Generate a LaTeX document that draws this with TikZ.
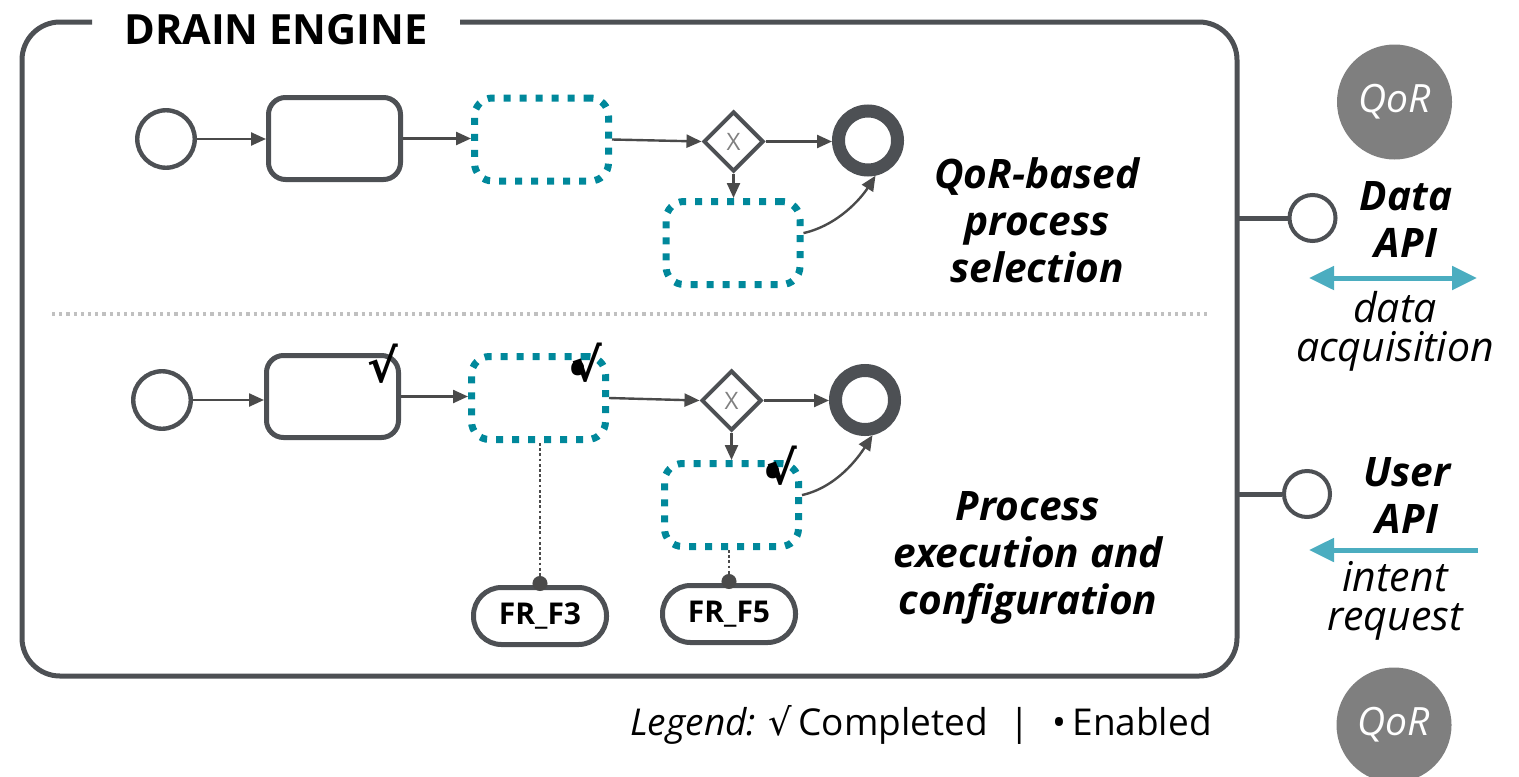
\documentclass[tikz,border=0pt]{standalone}
\usepackage{fontspec}
\setmainfont{Open Sans}
\newfontfamily\symfont{DejaVu Sans}
\usetikzlibrary{arrows.meta,shapes.geometric}
\definecolor{framegray}{HTML}{4D5054}
\definecolor{arrowgray}{HTML}{4A4A4A}
\definecolor{tealD}{HTML}{00889B}
\definecolor{tealL}{HTML}{4BADC0}
\definecolor{qorgray}{HTML}{7F7F7F}
\definecolor{sepgray}{HTML}{C0C0C0}
\tikzset{
  startev/.style={circle, draw=framegray, line width=2.2pt, minimum size=28.75pt, inner sep=0pt},
  task/.style={rectangle, rounded corners=8.5pt, draw=framegray, line width=2.5pt, minimum width=66pt, minimum height=41pt, inner sep=0pt},
  dtask/.style={rectangle, rounded corners=9pt, draw=tealD, line width=3.5pt, dash pattern=on 3.5pt off 4.5pt, minimum width=67pt, minimum height=41.5pt, inner sep=0pt},
  gate/.style={diamond, draw=framegray, line width=2pt, minimum width=30pt, minimum height=30pt, inner sep=0pt, text=gray, font=\fontsize{12}{12}\selectfont},
  endev/.style={circle, draw=framegray, line width=6.5pt, minimum size=29.5pt, inner sep=0pt},
  pill/.style={rectangle, rounded corners=14pt, draw=framegray, line width=2.5pt, minimum width=66.5pt, minimum height=28.5pt, inner sep=0pt, font=\bfseries\fontsize{15}{15}\selectfont},
  flow/.style={draw=arrowgray, line width=1.2pt, -{Triangle[length=7.5pt,width=6.5pt]}},
  assoc/.style={draw=arrowgray, line width=1.4pt, dash pattern=on 1.4pt off 1.2pt, -{Circle[length=7.5pt,sep=-3pt]}},
  frameline/.style={draw=framegray, line width=2.5pt},
  chk/.style={inner sep=0pt, font=\symfont\bfseries\fontsize{23}{23}\selectfont},
  bigl/.style={align=center, inner sep=0pt, font=\bfseries\itshape\fontsize{20.3}{23.5}\selectfont},
  smalll/.style={align=center, inner sep=0pt, font=\itshape\fontsize{20.5}{19.5}\selectfont},
  qor/.style={circle, fill=qorgray, minimum size=57.5pt, inner sep=0pt, text=white, font=\itshape\fontsize{19.5}{19.5}\selectfont},
  apic/.style={circle, draw=framegray, line width=2pt, minimum size=23pt, inner sep=0pt},
  apiarrow/.style={draw=tealL, line width=2.5pt},
  sepline/.style={draw=sepgray, line width=1.6pt, dash pattern=on 1.6pt off 2pt}
}
\begin{document}
\begin{tikzpicture}[x=0.5pt,y=-0.5pt]
\useasboundingbox (0,0) rectangle (1519,776);
% frame
\draw[frameline, rounded corners=19pt] (92,22) -- (22,22) -- (22,676) -- (1237,676) -- (1237,22) -- (460,22);
\node[inner sep=0pt, font=\bfseries\fontsize{20.8}{20.8}\selectfont] (title) at (276,30) {DRAIN ENGINE};
% separator
\coordinate (sepA) at (52,314);
\coordinate (sepB) at (1210,314);
\draw[sepline] (sepA) -- (sepB);
% top row
\node[startev] (s1) at (166,139) {};
\node[task] (t1) at (334.5,138.5) {};
\node[dtask] (d1) at (541.5,139.5) {};
\node[gate] (g1) at (733.5,141.5) {X};
\node[endev] (e1) at (868,140.5) {};
\node[dtask] (d2) at (733,243) {};
\draw[flow] (s1) -- (s1 -| t1.west);
\draw[flow] (t1.east) -- (t1.east -| d1.west);
\draw[flow] (d1.east) -- (g1.west);
\draw[flow] (g1.east) -- (g1.east -| e1.west);
\draw[flow] (g1.south) -- (g1.south |- d2.north);
\draw[flow] (d2.8) .. controls +(35,-8) and +(-14,22) .. (e1.-78);
% bottom row
\node[startev] (s2) at (162,400) {};
\node[task] (t2) at (332.5,396.5) {};
\node[dtask] (d3) at (538.5,398) {};
\node[gate] (g2) at (731.5,400.5) {X};
\node[endev] (e2) at (865,400) {};
\node[dtask] (d4) at (731.5,505) {};
\node[pill] (f3) at (540,616) {FR\_F3};
\node[pill] (f5) at (729,614) {FR\_F5};
\draw[flow] (s2) -- (s2 -| t2.west);
\draw[flow] (t2.east) -- (t2.east -| d3.west);
\draw[flow] (d3.east) -- (g2.west);
\draw[flow] (g2.east) -- (g2.east -| e2.west);
\draw[flow] (g2.south) -- (g2.south |- d4.north);
\draw[flow] (d4.8) .. controls +(35,-8) and +(-14,22) .. (e2.-78);
\draw[assoc] (f3.north |- d3.south) -- (f3.north);
\draw[assoc] (f5.north |- d4.south) -- (f5.north);
% check marks
\node[chk] (c1) at (383,364) {√};
\node[chk] (c2) at (587,364) {\rlap{\kern-1pt\raisebox{-2pt}{\fontspec{Open Sans}•}}√};
\node[chk] (c3) at (782,467) {\rlap{\kern-1pt\raisebox{-2pt}{\fontspec{Open Sans}•}}√};
% labels
\node[bigl] (lab1) at (1037,220) {QoR-based\\process\\selection};
\node[bigl] (lab2) at (1028,558) {Process\\execution and\\configuration};
% right side
\node[qor] (q1) at (1394.5,102) {QoR};
\node[qor] (q2) at (1394,725) {QoR};
\coordinate (fr1) at (1237,218);
\coordinate (fr2) at (1237,494);
\node[apic] (api1) at (1312.5,218) {};
\node[apic] (api2) at (1307,494) {};
\draw[frameline] (fr1) -- (api1);
\draw[frameline] (fr2) -- (api2);
\node[bigl] (dapi) at (1406,220) {Data\\API};
\node[bigl] (uapi) at (1407,495) {User\\API};
\coordinate (da1) at (1309,278);
\coordinate (da2) at (1477,278);
\draw[apiarrow, {Triangle[length=12.5pt,width=11.5pt]}-{Triangle[length=12.5pt,width=11.5pt]}] (da1) -- (da2);
\coordinate (ua1) at (1478,550);
\coordinate (ua2) at (1309,550);
\draw[apiarrow, -{Triangle[length=12.5pt,width=11.5pt]}] (ua1) -- (ua2);
\node[smalll] (dacq) at (1395,331) {data\\acquisition};
\node[smalll] (ireq) at (1395,601) {intent\\request};
% legend
\node[inner sep=0pt, font=\fontsize{18.5}{18.5}\selectfont] (legend) at (921,725) {\textit{Legend:} {\symfont √}\,Completed\hspace{11pt}|\hspace{11pt}•\,Enabled};
\end{tikzpicture}
\end{document}
